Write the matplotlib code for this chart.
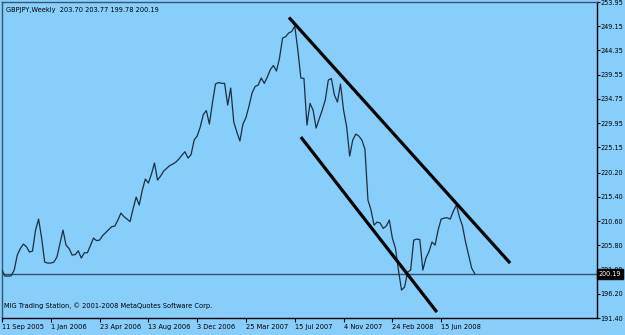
import matplotlib
matplotlib.use("Agg")
import matplotlib.pyplot as plt

# Weekly closes GBPJPY (week 0 = 11 Sep 2005)
closes = [
    200.88, 199.69, 199.69, 199.75, 200.88, 203.85, 205.14, 206.03, 205.53, 204.45,
    204.64, 208.80, 210.98, 207.22, 202.46, 202.27, 202.27, 202.46, 203.45, 206.13,
    208.80, 205.83, 205.14, 203.85, 203.95, 204.70, 203.26, 204.31, 204.31, 205.73,
    207.22, 206.72, 206.82, 207.71, 208.31, 208.90, 209.49, 209.59, 210.78, 212.17,
    211.44, 210.98, 210.48, 213.06, 215.34, 213.75, 216.72, 218.90, 218.11, 219.89,
    222.07, 218.70, 219.49, 220.48, 221.02, 221.57, 221.87, 222.27, 222.86, 223.65,
    224.31, 223.06, 223.75, 226.62, 227.42, 229.20, 231.67, 232.46, 229.79, 233.95,
    237.71, 238.01, 237.85, 237.85, 233.55, 236.92, 230.19, 228.21, 226.43, 229.79,
    231.08, 233.36, 235.93, 237.22, 237.51, 238.90, 237.85, 239.10, 240.58, 241.38,
    240.29, 242.86, 246.82, 247.08, 247.81, 248.11, 249.20, 244.45, 238.90, 238.84,
    229.59, 233.89, 232.56, 229.00, 230.78, 232.56, 234.54, 238.50, 238.80, 235.53,
    234.15, 237.71, 232.56, 229.30, 223.45, 226.62, 227.81, 227.42, 226.62, 224.84,
    214.74, 212.76, 209.79, 210.39, 210.19, 209.14, 209.59, 210.78, 207.22, 205.24,
    200.88, 196.92, 197.51, 200.48, 200.88, 206.82, 207.02, 206.92, 200.88, 203.26,
    204.54, 206.43, 205.83, 208.80, 210.98, 211.18, 211.24, 210.98, 212.56, 213.75,
    211.38, 209.59, 206.43, 203.85, 201.28, 200.19,
]
last_close = 200.19
header = "GBPJPY,Weekly  203.70 203.77 199.78 200.19"
footer = "MIG Trading Station, \u00a9 2001-2008 MetaQuotes Software Corp."

date_tick_weeks = [0, 16, 32, 48, 64, 80, 96, 112, 128, 144]
date_tick_labels = ["11 Sep 2005", "1 Jan 2006", "23 Apr 2006", "13 Aug 2006", "3 Dec 2006",
                    "25 Mar 2007", "15 Jul 2007", "4 Nov 2007", "24 Feb 2008", "15 Jun 2008"]
price_ticks = [253.95, 249.15, 244.35, 239.55, 234.75, 229.95, 225.15, 220.20,
               215.40, 210.60, 205.80, 201.00, 196.20, 191.40]

# Trend channel lines (week, price)
upper_channel_w = [94.1, 166.6]
upper_channel_p = [250.88, 202.27]
lower_channel_w = [98.0, 142.6]
lower_channel_p = [227.22, 192.57]

bg = "#87CEFA"
FS = 4.8
YFS = 4.7
W, H = 625, 335
fig = plt.figure(figsize=(W / 100, H / 100), dpi=100, facecolor=bg)
ax = fig.add_axes([2 / W, (H - 318) / H, (597 - 2) / W, (318 - 2) / H], facecolor=bg)

weeks = list(range(len(closes)))
ax.plot(weeks, closes, color="#1c2e40", lw=0.9, zorder=3)
ax.axhline(last_close, color="#34506a", lw=1.0, zorder=2)
ax.plot(upper_channel_w, upper_channel_p, color="black", lw=2.3, solid_capstyle="butt", zorder=4)
ax.plot(lower_channel_w, lower_channel_p, color="black", lw=2.3, solid_capstyle="butt", zorder=4)

ax.set_xlim(0, 195.1)
ax.set_ylim(191.40, 253.95)

ax.yaxis.tick_right()
ax.set_yticks(price_ticks)
ax.set_yticklabels([f"{v:.2f}" for v in price_ticks])
ax.set_xticks(date_tick_weeks)
ax.set_xticklabels(date_tick_labels)
for lab in ax.get_xticklabels():
    lab.set_horizontalalignment("left")
ax.tick_params(axis="x", direction="out", length=3, width=0.8, pad=1.5, labelsize=FS, colors="black")
ax.tick_params(axis="y", direction="out", length=2, width=0.8, pad=0.5, labelsize=YFS, colors="black")

for s in ["top", "left"]:
    ax.spines[s].set_color("#3a5570")
    ax.spines[s].set_linewidth(1.0)
for s in ["right", "bottom"]:
    ax.spines[s].set_color("black")
    ax.spines[s].set_linewidth(1.0)

ax.text(0.006, 0.985, header, transform=ax.transAxes, ha="left", va="top", fontsize=FS, color="black")
ax.text(0.004, 0.03, footer, transform=ax.transAxes, ha="left", va="bottom", fontsize=FS, color="black")

ax.text(1.003, last_close, f"{last_close:.2f}", transform=ax.get_yaxis_transform(),
        ha="left", va="center", fontsize=YFS, color="white", zorder=10, clip_on=False,
        bbox=dict(boxstyle="square,pad=0.3", facecolor="black", edgecolor="black"))

fig.savefig("out.png", dpi=100, facecolor=bg)
